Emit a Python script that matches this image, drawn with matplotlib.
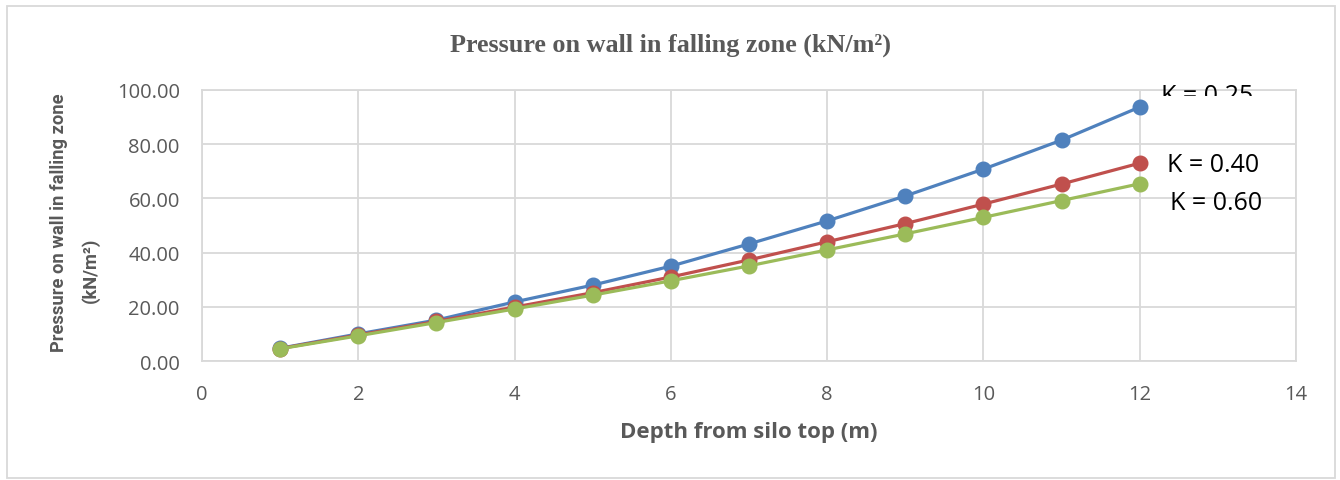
import matplotlib
matplotlib.use("Agg")
import matplotlib.pyplot as plt
from matplotlib.patches import Rectangle
from matplotlib.transforms import Bbox, TransformedBbox

depth = [1, 2, 3, 4, 5, 6, 7, 8, 9, 10, 11, 12]
k025 = [4.7, 10.0, 15.1, 21.8, 28.0, 35.0, 43.2, 51.7, 60.9, 70.8, 81.5, 93.7]
k040 = [4.6, 9.6, 14.6, 19.9, 25.2, 31.0, 37.3, 44.0, 50.7, 57.9, 65.3, 73.0]
k060 = [4.5, 9.3, 14.2, 19.2, 24.3, 29.6, 35.1, 41.0, 46.9, 53.0, 59.2, 65.4]
series_labels = ["K = 0.25", "K = 0.40", "K = 0.60"]
xticks = [0, 2, 4, 6, 8, 10, 12, 14]
yticks = [0, 20, 40, 60, 80, 100]

W, H = 1340, 481
GRAY = "#595959"
fig = plt.figure(figsize=(W / 100, H / 100), dpi=100)
ax = fig.add_axes([202 / W, 1 - 362 / H, (1296 - 202) / W, (362 - 91) / H])

colors = ["#4F81BD", "#C0504D", "#9BBB59"]
for ys, c in zip([k025, k040, k060], colors):
    ax.plot(depth, ys, color=c, lw=2.3, marker="o", ms=10.5, clip_on=False, zorder=3)

ax.set_xlim(0, 14)
ax.set_ylim(0, 100)
ax.set_xticks(xticks)
ax.set_yticks(yticks)
ax.set_yticklabels([f"{v:.2f}" for v in yticks])
ax.grid(True, color="#D9D9D9", lw=1.3)
ax.set_axisbelow(True)
for s in ax.spines.values():
    s.set_color("#D9D9D9")
    s.set_linewidth(1.3)
ax.tick_params(length=0, labelsize=14.5, labelcolor=GRAY)
ax.tick_params(axis="y", pad=16)
ax.tick_params(axis="x", pad=16.5)
for lab in ax.get_xticklabels() + ax.get_yticklabels():
    lab.set_fontfamily("Open Sans")

fig.text(0.5, 1 - 45 / H, "Pressure on wall in falling zone (kN/m²)",
         ha="center", va="center", fontsize=18.8, fontweight="bold",
         family="Liberation Serif", color=GRAY)
fig.text(749 / W, 1 - 433 / H, "Depth from silo top (m)", ha="center", va="center",
         fontsize=16, fontweight="bold", family="Open Sans", color=GRAY)
fig.text(59 / W, 1 - 223 / H, "Pressure on wall in falling zone",
         ha="center", va="center", rotation=90, fontsize=13.2, fontweight="bold",
         family="Roboto", color=GRAY)
fig.text(90 / W, 1 - 270 / H, "(kN/m²)",
         ha="center", va="center", rotation=90, fontsize=13.2, fontweight="bold",
         family="Roboto", color=GRAY)

t1 = fig.text(1207 / W, 1 - 97 / H, series_labels[0], ha="center", va="center",
              fontsize=18, family="Open Sans", color="black")
t1.set_clip_box(TransformedBbox(Bbox([[0, 1 - 97 / H], [1, 1]]), fig.transFigure))
t1.set_clip_on(True)
fig.text(1213 / W, 1 - 166 / H, series_labels[1], ha="center", va="center",
         fontsize=18, family="Open Sans", color="black")
fig.text(1216 / W, 1 - 204 / H, series_labels[2], ha="center", va="center",
         fontsize=18, family="Open Sans", color="black")

fig.patches.append(Rectangle((7 / W, 1 - 479 / H), 1328 / W, 472 / H, transform=fig.transFigure,
                             fill=False, edgecolor="#D9D9D9", lw=1.3))

fig.savefig("out.png", dpi=100)
